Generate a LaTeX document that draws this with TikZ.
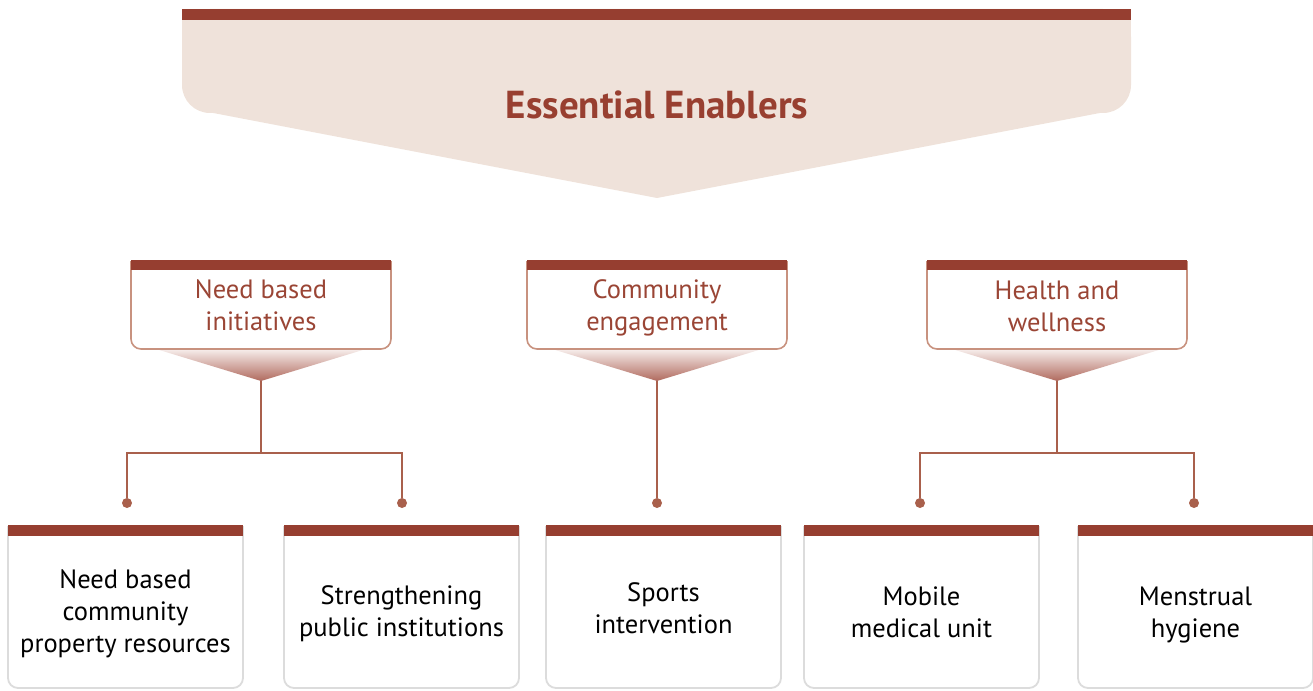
\documentclass[tikz,border=0pt]{standalone}
\usepackage{fontspec}
\setmainfont{PT Sans}
\usepackage{xcolor}
\usepackage{tikz}
\usetikzlibrary{positioning,calc}
\definecolor{barRed}{HTML}{963E30}
\definecolor{bannerBg}{HTML}{EFE2DA}
\definecolor{titleRed}{HTML}{983F30}
\definecolor{catText}{HTML}{9A4535}
\definecolor{catEdge}{HTML}{C8927F}
\definecolor{connBrown}{HTML}{A9604C}
\definecolor{boxGray}{HTML}{DCDCDC}
\definecolor{fanTop}{HTML}{F7EEEC}
\definecolor{fanBot}{HTML}{B06A5E}

\begin{document}
\begin{tikzpicture}[
    x=1pt,y=-1pt,
    title/.style={font=\fontsize{39}{44}\selectfont\bfseries,text=titleRed},
    catbox/.style={minimum width=260pt,minimum height=88pt,inner sep=0pt,
                   align=center,text=catText,font=\fontsize{26.5}{32}\selectfont},
    itembox/.style={minimum width=235pt,minimum height=163pt,inner sep=0pt,
                    align=center,font=\fontsize{26.5}{32}\selectfont},
    bar/.style={fill=barRed},
    catframe/.style={draw=catEdge,line width=1.6pt,rounded corners=10pt},
    itemframe/.style={draw=boxGray,line width=1.8pt,rounded corners=10pt},
    conn/.style={connBrown,line width=1.8pt},
    dot/.style={circle,fill=connBrown,inner sep=0pt,minimum size=10pt}
  ]
  \useasboundingbox (0,0) rectangle (1313,690);
  %% Banner at the top
  \fill[bannerBg,rounded corners=28pt] (182,9) rectangle (1131,113);
  \fill[bannerBg] (182,9) rectangle (1131,60);
  \fill[bannerBg] (208,112) -- (657,198) -- (1105,112) -- cycle;
  \fill[bar] (182,9) rectangle (1131,20);
  \node[title] (ttl) at (657,105) {Essential Enablers};
  %% Category boxes
  \node[catbox] (c1) at (261,305) {Need based\\initiatives};
  \node[catbox] (c2) at (657,308) {Community\\engagement};
  \node[catbox] (c3) at (1057,306) {Health and\\wellness};
  \foreach \c/\x in {c1/261,c2/657,c3/1057}{
    \shade[top color=fanTop,bottom color=fanBot]
      (\x-105,349) -- (\x+105,349) -- (\x,381) -- cycle;
    \draw[catframe] (\x-130,261) -- (\x-130,349) -- (\x+130,349) -- (\x+130,261);
    \fill[bar] (\x-130,260) rectangle (\x+130,270);
    \coordinate (\c tip) at (\x,381);
  }
  %% Item boxes
  \node[itembox] (b1) at (125.5,614) {Need based\\community\\property resources};
  \node[itembox] (b2) at (401.5,614) {Strengthening\\public institutions};
  \node[itembox] (b3) at (663.5,608) {Sports\\intervention};
  \node[itembox] (b4) at (921.5,612) {Mobile\\medical unit};
  \node[itembox] (b5) at (1195.5,615) {Menstrual\\hygiene};
  \foreach \b/\x in {b1/125.5,b2/401.5,b3/663.5,b4/921.5,b5/1195.5}{
    \draw[itemframe] (\x-117.5,526) -- (\x-117.5,688) -- (\x+117.5,688) -- (\x+117.5,526);
    \fill[bar] (\x-117.5,525) rectangle (\x+117.5,536);
  }
  %% Dots and connectors
  \node[dot] (d1) at (127,503) {};
  \node[dot] (d2) at (402,503) {};
  \node[dot] (d3) at (657,503) {};
  \node[dot] (d4) at (920,503) {};
  \node[dot] (d5) at (1194,503) {};
  \coordinate (j1) at (261,453);
  \coordinate (j3) at (1057,453);
  \draw[conn] (c1tip) -- (j1);
  \draw[conn] (d1) |- (j1) -| (d2);
  \draw[conn] (c2tip) -- (d3);
  \draw[conn] (c3tip) -- (j3);
  \draw[conn] (d4) |- (j3) -| (d5);
\end{tikzpicture}
\end{document}
